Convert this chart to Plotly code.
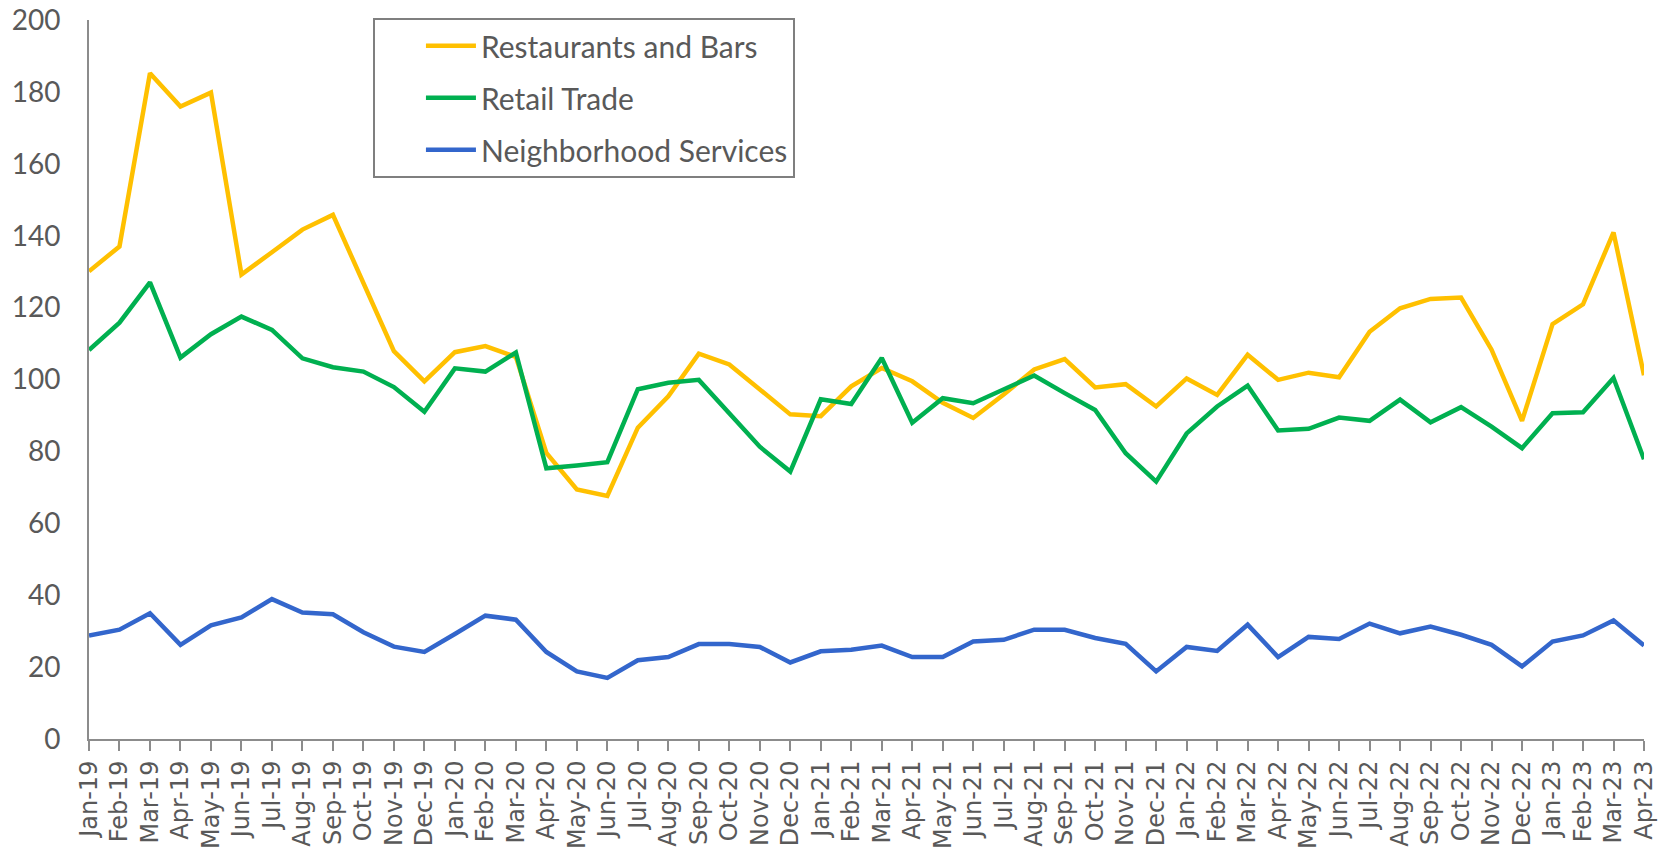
import plotly.graph_objects as go

months = ["Jan-19","Feb-19","Mar-19","Apr-19","May-19","Jun-19","Jul-19","Aug-19","Sep-19","Oct-19","Nov-19","Dec-19",
          "Jan-20","Feb-20","Mar-20","Apr-20","May-20","Jun-20","Jul-20","Aug-20","Sep-20","Oct-20","Nov-20","Dec-20",
          "Jan-21","Feb-21","Mar-21","Apr-21","May-21","Jun-21","Jul-21","Aug-21","Sep-21","Oct-21","Nov-21","Dec-21",
          "Jan-22","Feb-22","Mar-22","Apr-22","May-22","Jun-22","Jul-22","Aug-22","Sep-22","Oct-22","Nov-22","Dec-22",
          "Jan-23","Feb-23","Mar-23","Apr-23"]

restaurants_bars = [130.1, 137.0, 185.2, 175.9, 179.8, 129.2, 135.4, 141.7, 145.8, 126.9, 107.9, 99.5,
                    107.6, 109.3, 106.3, 79.6, 69.4, 67.6, 86.6, 95.3, 107.2, 104.2, 97.2, 90.3,
                    89.8, 98.1, 103.2, 99.5, 93.5, 89.3, 95.8, 102.8, 105.7, 97.8, 98.7, 92.5,
                    100.3, 95.7, 106.9, 99.9, 101.9, 100.6, 113.3, 119.8, 122.4, 122.8, 108.3, 88.5,
                    115.4, 120.9, 140.9, 101.2]

retail_trade = [108.2, 115.8, 127.0, 106.1, 112.6, 117.5, 113.8, 105.9, 103.4, 102.2, 97.9, 91.0,
                103.1, 102.2, 107.5, 75.3, 76.1, 77.0, 97.3, 99.1, 99.9, 90.5, 81.3, 74.4,
                94.5, 93.2, 106.0, 88.0, 94.8, 93.4, 97.2, 101.1, 96.2, 91.5, 79.5, 71.6,
                85.0, 92.5, 98.3, 85.8, 86.3, 89.4, 88.5, 94.4, 88.1, 92.3, 86.9, 80.9,
                90.6, 90.9, 100.4, 77.8]

neighborhood_services = [28.8, 30.4, 35.0, 26.2, 31.6, 33.8, 38.9, 35.2, 34.7, 29.7, 25.7, 24.2,
                         29.2, 34.3, 33.2, 24.2, 18.8, 17.0, 21.9, 22.8, 26.4, 26.4, 25.6, 21.3,
                         24.4, 24.8, 26.0, 22.8, 22.8, 27.1, 27.6, 30.4, 30.4, 28.1, 26.5, 18.8,
                         25.6, 24.5, 31.8, 22.8, 28.4, 27.8, 32.1, 29.4, 31.3, 29.0, 26.2, 20.2,
                         27.1, 28.8, 33.0, 26.0]

series = [
    ("Restaurants and Bars", restaurants_bars, "#FFC000"),
    ("Retail Trade", retail_trade, "#00B050"),
    ("Neighborhood Services", neighborhood_services, "#3366CC"),
]

y_ticks = [0, 20, 40, 60, 80, 100, 120, 140, 160, 180, 200]

fig = go.Figure()
for name, vals, color in series:
    fig.add_trace(go.Scatter(
        x=months, y=vals, mode="lines", name=name, legendgroup=name,
        line=dict(color=color, width=4.5, shape="linear"),
    ))

axis_grey = "#8C8C8C"
text_grey = "#595959"

fig.update_layout(
    width=1672, height=857,
    margin=dict(l=89, r=28, t=20, b=118, autoexpand=False),
    paper_bgcolor="white", plot_bgcolor="white",
    showlegend=True,
    legend=dict(
        x=0.1826, y=1.003, xanchor="left", yanchor="top",
        bordercolor="#7F7F7F", borderwidth=2, bgcolor="white",
        font=dict(family="Lato, sans-serif", size=30, color=text_grey),
        tracegroupgap=10, itemwidth=50, indentation=46,
    ),
    xaxis=dict(
        type="category", categoryorder="array", categoryarray=months,
        range=[0, len(months) - 1],
        tickmode="linear", tick0=0, dtick=1,
        showline=True, linecolor=axis_grey, linewidth=2,
        ticks="outside", ticklen=10, tickcolor=axis_grey, tickwidth=2,
        tickangle=-90, showgrid=False, zeroline=False, automargin=False,
        tickfont=dict(family="DejaVu Sans, sans-serif", size=24, color=text_grey),
        tickson="labels", ticklabeloverflow="allow",
    ),
    yaxis=dict(
        range=[0, 200], tickvals=y_ticks, ticktext=[str(v) for v in y_ticks],
        showline=True, linecolor=axis_grey, linewidth=2,
        ticks="", showgrid=False, zeroline=False, automargin=False,
        tickfont=dict(family="Lato, sans-serif", size=28, color=text_grey),
        ticklabelstandoff=21, ticklabeloverflow="allow",
    ),
)

fig.write_html("out.html", config={"displayModeBar": False},
               post_script="document.body.style.margin='0';")
